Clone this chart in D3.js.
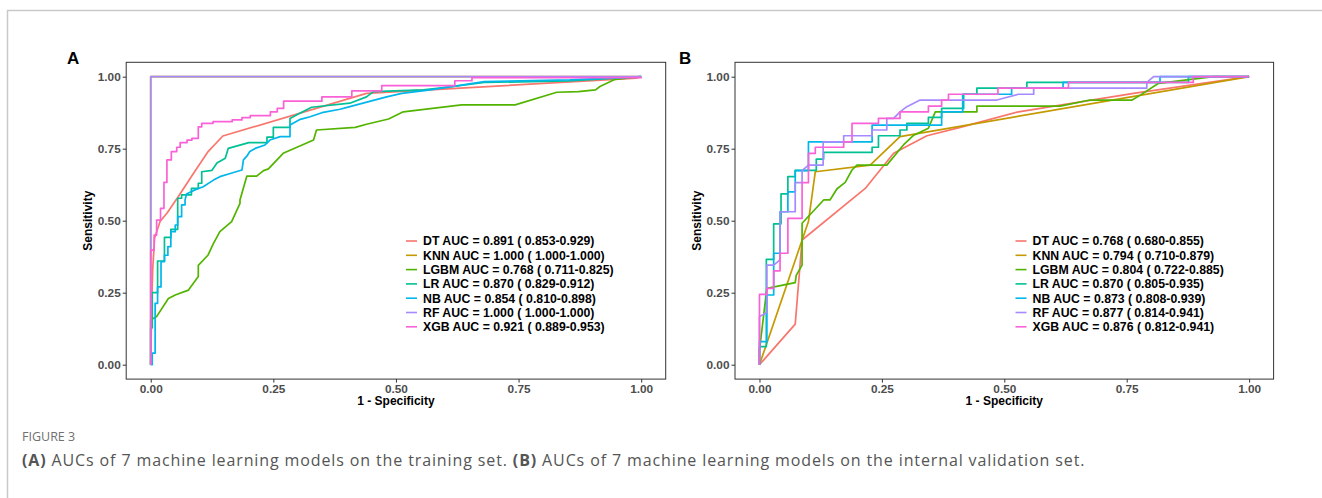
<!DOCTYPE html>
<html>
<head>
<meta charset="utf-8">
<script src="https://cdn.jsdelivr.net/npm/d3@7"></script>
<style>
  html, body { margin: 0; padding: 0; background: #fff; }
  svg { display: block; }
</style>
</head>
<body>
<div id="chart"></div>
<script>
// model names and ggplot hue colours
const models = ["DT", "KNN", "LGBM", "LR", "NB", "RF", "XGB"];
const modelColors = ["#F8766D", "#C49A00", "#53B400", "#00C094", "#00B6EB", "#A58AFF", "#FB61D7"];

const tickValues = [0, 0.25, 0.5, 0.75, 1];
const tickLabels = ["0.00", "0.25", "0.50", "0.75", "1.00"];

const legendTrain = [
  "DT AUC = 0.891 ( 0.853-0.929)",
  "KNN AUC = 1.000 ( 1.000-1.000)",
  "LGBM AUC = 0.768 ( 0.711-0.825)",
  "LR AUC = 0.870 ( 0.829-0.912)",
  "NB AUC = 0.854 ( 0.810-0.898)",
  "RF AUC = 1.000 ( 1.000-1.000)",
  "XGB AUC = 0.921 ( 0.889-0.953)"
];
const legendValid = [
  "DT AUC = 0.768 ( 0.680-0.855)",
  "KNN AUC = 0.794 ( 0.710-0.879)",
  "LGBM AUC = 0.804 ( 0.722-0.885)",
  "LR AUC = 0.870 ( 0.805-0.935)",
  "NB AUC = 0.873 ( 0.808-0.939)",
  "RF AUC = 0.877 ( 0.814-0.941)",
  "XGB AUC = 0.876 ( 0.812-0.941)"
];

// ROC points [1 - specificity, sensitivity], training set
const trainDT = [[0,0],[0.002,0.2],[0.004,0.33],[0.008,0.44],[0.019,0.497],[0.033,0.526],[0.056,0.583],[0.087,0.664],[0.117,0.74],[0.147,0.794],[0.44,0.942],[0.99,0.995],[1,1]];
const trainKNN = [[0,0],[0,1],[1,1]];
const trainLGBM = [[0,0],[0,0.155],[0.012,0.167],[0.036,0.23],[0.05,0.242],[0.077,0.259],[0.097,0.306],[0.097,0.345],[0.117,0.381],[0.128,0.421],[0.141,0.462],[0.165,0.497],[0.182,0.56],[0.182,0.572],[0.196,0.655],[0.216,0.655],[0.23,0.674],[0.24,0.68],[0.27,0.734],[0.332,0.78],[0.338,0.815],[0.417,0.824],[0.44,0.835],[0.485,0.853],[0.515,0.878],[0.634,0.902],[0.743,0.902],[0.828,0.946],[0.872,0.948],[0.907,0.954],[0.916,0.966],[0.947,0.991],[1,1]];
const trainLR = [[0,0],[0,0.128],[0.003,0.128],[0.003,0.25],[0.014,0.25],[0.014,0.36],[0.028,0.36],[0.028,0.442],[0.041,0.442],[0.041,0.47],[0.055,0.47],[0.055,0.578],[0.063,0.578],[0.063,0.59],[0.083,0.59],[0.083,0.612],[0.097,0.612],[0.097,0.63],[0.104,0.63],[0.104,0.67],[0.125,0.675],[0.135,0.7],[0.152,0.717],[0.158,0.751],[0.2,0.771],[0.237,0.771],[0.237,0.79],[0.25,0.79],[0.25,0.824],[0.284,0.824],[0.284,0.855],[0.3,0.87],[0.328,0.894],[0.406,0.908],[0.44,0.93],[0.454,0.948],[0.556,0.954],[0.617,0.966],[0.68,0.98],[0.85,0.985],[0.95,0.995],[1,1]];
const trainNB = [[0,0],[0.003,0],[0.003,0.04],[0.009,0.04],[0.009,0.213],[0.014,0.213],[0.014,0.27],[0.021,0.27],[0.021,0.358],[0.028,0.358],[0.028,0.38],[0.035,0.38],[0.035,0.41],[0.041,0.41],[0.041,0.462],[0.05,0.462],[0.05,0.485],[0.055,0.485],[0.055,0.514],[0.063,0.514],[0.063,0.555],[0.07,0.555],[0.07,0.572],[0.073,0.593],[0.09,0.607],[0.107,0.618],[0.128,0.641],[0.141,0.653],[0.162,0.664],[0.186,0.676],[0.189,0.711],[0.196,0.724],[0.202,0.74],[0.213,0.751],[0.233,0.763],[0.243,0.78],[0.264,0.792],[0.284,0.792],[0.284,0.832],[0.305,0.852],[0.325,0.861],[0.349,0.875],[0.386,0.887],[0.406,0.896],[0.481,0.93],[0.512,0.942],[0.57,0.954],[0.68,0.983],[0.855,0.989],[1,1]];
const trainRF = [[0,0],[0,1],[1,1]];
const trainXGB = [[0,0],[0,0.398],[0.007,0.398],[0.007,0.45],[0.012,0.45],[0.012,0.502],[0.02,0.502],[0.02,0.543],[0.027,0.543],[0.027,0.633],[0.033,0.633],[0.033,0.711],[0.042,0.711],[0.042,0.74],[0.053,0.74],[0.053,0.755],[0.06,0.755],[0.06,0.771],[0.074,0.771],[0.074,0.78],[0.084,0.78],[0.084,0.786],[0.097,0.786],[0.097,0.826],[0.104,0.826],[0.104,0.838],[0.127,0.838],[0.127,0.844],[0.166,0.844],[0.166,0.85],[0.186,0.85],[0.186,0.858],[0.203,0.858],[0.203,0.865],[0.244,0.865],[0.244,0.878],[0.258,0.878],[0.258,0.89],[0.271,0.89],[0.271,0.915],[0.349,0.915],[0.349,0.93],[0.41,0.93],[0.41,0.951],[0.471,0.951],[0.471,0.969],[0.62,0.969],[0.62,0.986],[0.655,0.986],[0.655,0.997],[1,0.997],[1,1]];

// ROC points, internal validation set
const validDT = [[0,0],[0.073,0.141],[0.087,0.433],[0.216,0.612],[0.274,0.734],[0.342,0.795],[0.41,0.824],[0.529,0.878],[0.764,0.942],[1,1]];
const validKNN = [[0,0],[0.1,0.497],[0.114,0.67],[0.226,0.693],[0.287,0.792],[1,1]];
const validLGBM = [[0,0],[0,0.05],[0.015,0.265],[0.073,0.285],[0.075,0.31],[0.087,0.346],[0.087,0.491],[0.131,0.572],[0.144,0.572],[0.158,0.61],[0.175,0.633],[0.189,0.676],[0.199,0.693],[0.26,0.693],[0.294,0.763],[0.315,0.797],[0.345,0.821],[0.359,0.878],[0.444,0.878],[0.444,0.898],[0.614,0.898],[0.675,0.919],[0.761,0.919],[0.778,0.936],[0.815,0.977],[0.927,1],[1,1]];
const validLR = [[0,0],[0,0.063],[0.014,0.063],[0.014,0.366],[0.029,0.366],[0.029,0.489],[0.044,0.489],[0.044,0.593],[0.058,0.593],[0.058,0.653],[0.073,0.653],[0.073,0.675],[0.116,0.675],[0.116,0.714],[0.131,0.714],[0.131,0.737],[0.23,0.737],[0.23,0.755],[0.243,0.755],[0.243,0.795],[0.287,0.795],[0.287,0.815],[0.301,0.815],[0.301,0.838],[0.345,0.838],[0.345,0.859],[0.372,0.859],[0.372,0.89],[0.417,0.89],[0.417,0.939],[0.444,0.939],[0.444,0.96],[0.546,0.96],[0.546,0.98],[0.876,0.98],[0.876,1],[1,1]];
const validNB = [[0,0],[0,0.08],[0.015,0.08],[0.015,0.242],[0.029,0.242],[0.029,0.387],[0.042,0.387],[0.042,0.531],[0.058,0.531],[0.058,0.6],[0.073,0.6],[0.073,0.674],[0.1,0.674],[0.1,0.774],[0.23,0.774],[0.23,0.832],[0.372,0.832],[0.372,0.878],[0.415,0.878],[0.415,0.939],[0.515,0.939],[0.515,0.96],[0.62,0.96],[0.62,0.98],[0.818,0.98],[0.818,1],[1,1]];
const validRF = [[0,0],[0,0.167],[0.015,0.181],[0.015,0.346],[0.029,0.346],[0.042,0.364],[0.042,0.531],[0.073,0.531],[0.073,0.632],[0.087,0.632],[0.087,0.674],[0.1,0.693],[0.13,0.693],[0.13,0.774],[0.172,0.774],[0.172,0.795],[0.23,0.795],[0.23,0.815],[0.26,0.815],[0.26,0.855],[0.274,0.855],[0.287,0.878],[0.301,0.896],[0.328,0.919],[0.485,0.919],[0.529,0.939],[0.56,0.939],[0.56,0.96],[0.791,0.96],[0.791,0.98],[0.805,1],[1,1]];
const validXGB = [[0,0],[0,0.244],[0.015,0.244],[0.015,0.265],[0.029,0.265],[0.029,0.326],[0.042,0.326],[0.042,0.387],[0.058,0.387],[0.058,0.508],[0.087,0.508],[0.087,0.632],[0.1,0.632],[0.1,0.734],[0.114,0.734],[0.114,0.755],[0.172,0.755],[0.172,0.774],[0.189,0.774],[0.189,0.838],[0.243,0.838],[0.243,0.855],[0.287,0.855],[0.287,0.878],[0.345,0.878],[0.345,0.898],[0.372,0.898],[0.372,0.919],[0.386,0.919],[0.386,0.939],[0.487,0.939],[0.487,0.96],[0.631,0.96],[0.631,0.98],[0.886,0.98],[0.886,1],[1,1]];

const trainCurves = [trainDT, trainKNN, trainLGBM, trainLR, trainNB, trainRF, trainXGB];
const validCurves = [validDT, validKNN, validLGBM, validLR, validNB, validRF, validXGB];

const width = 1322, height = 498;

const svg = d3.select('#chart').append('svg')
    .attr('width', width)
    .attr('height', height);

svg.append('rect').attr('width', width).attr('height', height).attr('fill', '#fff');

// page frame (top and left rule)
svg.append('path')
    .attr('d', `M7.5,${height} V10.5 H${width}`)
    .attr('fill', 'none')
    .attr('stroke', '#c9c9c9')
    .attr('stroke-width', 1.5);

const fontFam = '"Liberation Sans", Arial, Helvetica, sans-serif';

function drawPanel(letter, left, right, curves, legendText, legendX, letterX) {
    const top = 62.3, bottom = 379.1;
    const x = d3.scaleLinear().domain([-0.05, 1.05]).range([left, right]);
    const y = d3.scaleLinear().domain([-0.05, 1.05]).range([bottom, top]);

    const g = svg.append('g');

    const line = d3.line()
        .x(d => x(d[0]))
        .y(d => y(d[1]));

    g.selectAll('path.roc')
        .data(curves)
        .join('path')
        .attr('class', 'roc')
        .attr('d', line)
        .attr('fill', 'none')
        .attr('stroke', (d, i) => modelColors[i])
        .attr('stroke-width', 1.7)
        .attr('stroke-linejoin', 'round');

    // panel border
    g.append('rect')
        .attr('x', left).attr('y', top)
        .attr('width', right - left).attr('height', bottom - top)
        .attr('fill', 'none')
        .attr('stroke', '#333')
        .attr('stroke-width', 1);

    const xAxis = g.append('g')
        .attr('transform', `translate(0,${bottom})`)
        .call(d3.axisBottom(x).tickValues(tickValues).tickFormat((d, i) => tickLabels[i]).tickSize(3.5).tickPadding(2));
    const yAxis = g.append('g')
        .attr('transform', `translate(${left},0)`)
        .call(d3.axisLeft(y).tickValues(tickValues).tickFormat((d, i) => tickLabels[i]).tickSize(3.5).tickPadding(2));

    [xAxis, yAxis].forEach(a => {
        a.select('.domain').remove();
        a.selectAll('line').attr('stroke', '#333');
        a.selectAll('text')
            .attr('fill', '#4d4d4d')
            .style('font-family', fontFam)
            .style('font-size', '11.8px')
            .style('font-weight', 'bold');
    });

    g.append('text')
        .attr('x', (left + right) / 2)
        .attr('y', 405)
        .attr('text-anchor', 'middle')
        .style('font-family', fontFam)
        .style('font-size', '12px')
        .style('font-weight', 'bold')
        .text('1 - Specificity');

    g.append('text')
        .attr('transform', `translate(${left - 34},${(top + bottom) / 2}) rotate(-90)`)
        .attr('text-anchor', 'middle')
        .style('font-family', fontFam)
        .style('font-size', '12px')
        .style('font-weight', 'bold')
        .text('Sensitivity');

    g.append('text')
        .attr('x', letterX)
        .attr('y', 64)
        .style('font-family', fontFam)
        .style('font-size', '17px')
        .style('font-weight', 'bold')
        .text(letter);

    // legend
    const leg = g.append('g');
    const rows = leg.selectAll('g')
        .data(legendText)
        .join('g')
        .attr('transform', (d, i) => `translate(${legendX},${241 + i * 14.3})`);
    rows.append('line')
        .attr('x1', 0).attr('x2', 11)
        .attr('stroke', (d, i) => modelColors[i])
        .attr('stroke-width', 1.6);
    rows.append('text')
        .attr('x', 17)
        .attr('dy', '0.35em')
        .style('font-family', fontFam)
        .style('font-size', '12.3px')
        .style('font-weight', 'bold')
        .text(d => d);
}

drawPanel('A', 126.2, 665.7, trainCurves, legendTrain, 406, 67);
drawPanel('B', 735, 1273.6, validCurves, legendValid, 1015.5, 679);

// caption
svg.append('text')
    .attr('x', 22)
    .attr('y', 441)
    .attr('fill', '#707070')
    .style('font-family', '"Open Sans", sans-serif')
    .style('font-size', '12.5px')
    .text('FIGURE 3');

const cap = svg.append('text')
    .attr('x', 22)
    .attr('y', 466)
    .attr('fill', '#555')
    .style('font-family', '"Open Sans", sans-serif')
    .style('font-size', '16px')
    .style('letter-spacing', '0.88px');
cap.append('tspan').style('font-weight', 'bold').text('(A)');
cap.append('tspan').text(' AUCs of 7 machine learning models on the training set. ');
cap.append('tspan').style('font-weight', 'bold').text('(B)');
cap.append('tspan').text(' AUCs of 7 machine learning models on the internal validation set.');
</script>
</body>
</html>
